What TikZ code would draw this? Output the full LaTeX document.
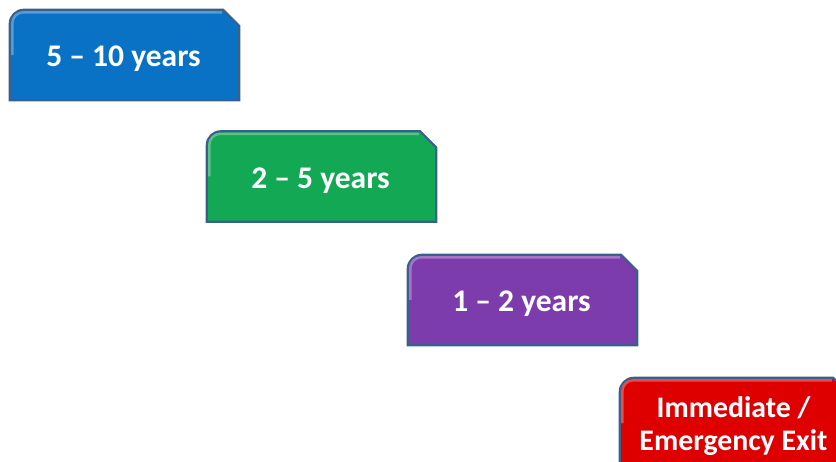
\documentclass[tikz,border=0pt]{standalone}
\usepackage{fontspec}
\setmainfont{Carlito}
\usepackage{tikz}
\usetikzlibrary{calc,backgrounds}

\definecolor{edgeblue}{HTML}{3A5F8C}
\definecolor{termblue}{HTML}{0A72C4}
\definecolor{termgreen}{HTML}{13A853}
\definecolor{termpurple}{HTML}{7C3CAC}
\definecolor{termred}{HTML}{DE0000}

\tikzstyle{term} = [rectangle, minimum width=229pt, minimum height=90pt, inner sep=0pt, align=center, text=white, font=\fontsize{31.5}{33}\selectfont\bfseries]
\tikzstyle{termtext} = [term, minimum size=0pt]

% outline: rounded top left, snipped top right, light bevel on top
\newcommand{\termshape}[2]{%
  \begin{scope}[on background layer]
  \filldraw[fill=#2, draw=edgeblue, line width=2.2pt]
    (#1.south west) [rounded corners=14pt] -- (#1.north west) [sharp corners]
    -- ($(#1.north east)+(-16pt,0)$) -- ($(#1.north east)+(0,-16pt)$)
    -- (#1.south east) -- cycle;
  \draw[white, opacity=0.3, line width=2.5pt]
    ($(#1.west)+(2.5pt,0)$) [rounded corners=11pt] -- ($(#1.north west)+(2.5pt,-2.5pt)$) [sharp corners]
    -- ($(#1.north east)+(-17pt,-2.5pt)$);
  \end{scope}}

\begin{document}
\begin{tikzpicture}[x=1pt,y=1pt]
\clip (0,0) rectangle (836,461);

\node[term] (t1) at (124.5,406) {};
\node[term] (t2) at (321.5,284.5) {};
\node[term] (t3) at (522.5,161) {};
\node[term] (t4) at (734.5,38) {};

\node[termtext] (l1) at ($(t1)+(-1,-4)$) {5 -- 10 years};
\node[termtext] (l2) at ($(t2)+(-1,-4)$) {2 -- 5 years};
\node[termtext] (l3) at ($(t3)+(-1,-4)$) {1 -- 2 years};
\node[termtext, font=\fontsize{29.8}{32.5}\selectfont\bfseries] (l4) at ($(t4)+(-1,-3)$) {Immediate /\\Emergency Exit};

\termshape{t1}{termblue}
\termshape{t2}{termgreen}
\termshape{t3}{termpurple}
\termshape{t4}{termred}
\end{tikzpicture}
\end{document}
